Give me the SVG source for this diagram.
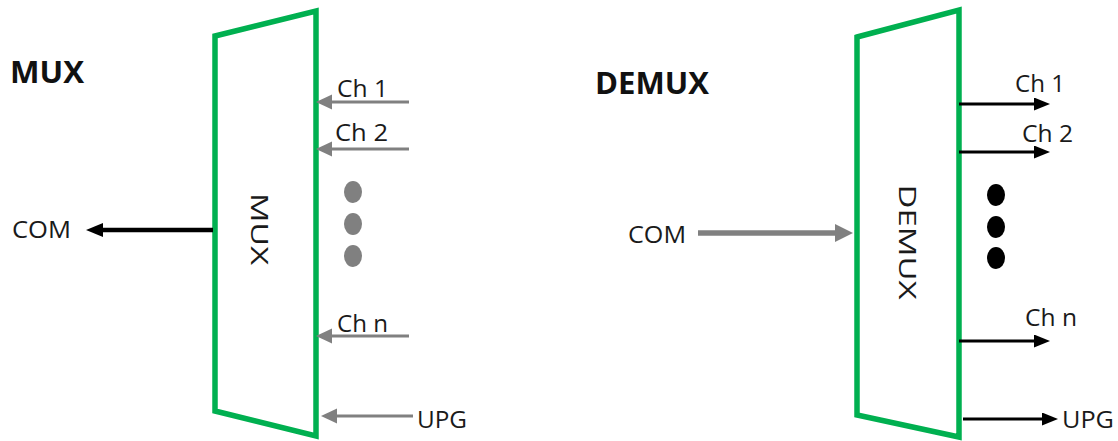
<svg xmlns="http://www.w3.org/2000/svg" width="1118" height="441" viewBox="0 0 1118 441">
<style>
  .box { fill: #ffffff; stroke: #00B050; stroke-width: 5.5; stroke-linejoin: miter; }
  .lbl { font-family: "Open Sans", "Liberation Sans", sans-serif; font-size: 24px; fill: #1a1a1a; }
  .ttl { font-family: "Open Sans", "Liberation Sans", sans-serif; font-size: 30px; font-weight: bold; fill: #111111; }
  .gray { stroke: #808080; fill: none; }
  .blk { stroke: #000000; fill: none; }
</style>
<defs>
  <marker id="hg" markerUnits="userSpaceOnUse" markerWidth="18" markerHeight="16" refX="4" refY="7.5" orient="auto">
    <path d="M0,0 L16,7.5 L0,15 z" fill="#808080"/>
  </marker>
  <marker id="hgBig" markerUnits="userSpaceOnUse" markerWidth="20" markerHeight="20" refX="4" refY="9" orient="auto">
    <path d="M0,0 L18,9 L0,18 z" fill="#808080"/>
  </marker>
  <marker id="hb" markerUnits="userSpaceOnUse" markerWidth="18" markerHeight="14" refX="4" refY="6.5" orient="auto">
    <path d="M0,0 L16,6.5 L0,13 z" fill="#000000"/>
  </marker>
  <marker id="hbBig" markerUnits="userSpaceOnUse" markerWidth="19" markerHeight="16" refX="4" refY="7" orient="auto">
    <path d="M0,0 L17,7 L0,14 z" fill="#000000"/>
  </marker>
</defs>
<rect width="1118" height="441" fill="#ffffff"/>

<text class="ttl" x="10" y="83" textLength="74" lengthAdjust="spacingAndGlyphs">MUX</text>
<text class="ttl" x="595" y="94" textLength="114" lengthAdjust="spacingAndGlyphs">DEMUX</text>

<g id="mux">
  <polygon class="box" points="215,36 316,11 316,436 215,411"/>
  <text class="lbl" transform="translate(251,229) rotate(90)" text-anchor="middle" font-size="28" textLength="72" lengthAdjust="spacingAndGlyphs">MUX</text>
</g>

<g id="demux">
  <polygon class="box" points="857,37 959,10 959,437 857,415"/>
  <text class="lbl" transform="translate(899,242) rotate(90)" text-anchor="middle" font-size="34" textLength="115" lengthAdjust="spacingAndGlyphs">DEMUX</text>
</g>

<g id="mux-dots" fill="#808080">
  <ellipse cx="353" cy="192" rx="9" ry="11"/>
  <ellipse cx="353" cy="224" rx="9" ry="11"/>
  <ellipse cx="353" cy="256" rx="9" ry="11"/>
</g>
<g id="demux-dots" fill="#000000">
  <ellipse cx="996" cy="195" rx="9" ry="11"/>
  <ellipse cx="996" cy="227" rx="9" ry="11"/>
  <ellipse cx="996" cy="258" rx="9" ry="11"/>
</g>

<g id="labels">
  <text class="lbl" x="12" y="238" textLength="59" lengthAdjust="spacingAndGlyphs">COM</text>
  <text class="lbl" x="337" y="97" textLength="51" lengthAdjust="spacingAndGlyphs">Ch 1</text>
  <text class="lbl" x="335" y="141" textLength="53" lengthAdjust="spacingAndGlyphs">Ch 2</text>
  <text class="lbl" x="337" y="332" textLength="51" lengthAdjust="spacingAndGlyphs">Ch n</text>
  <text class="lbl" x="417" y="428" textLength="50" lengthAdjust="spacingAndGlyphs">UPG</text>

  <text class="lbl" x="628" y="243" textLength="58" lengthAdjust="spacingAndGlyphs">COM</text>
  <text class="lbl" x="1015" y="92" textLength="50" lengthAdjust="spacingAndGlyphs">Ch 1</text>
  <text class="lbl" x="1022" y="142" textLength="51" lengthAdjust="spacingAndGlyphs">Ch 2</text>
  <text class="lbl" x="1025" y="326" textLength="52" lengthAdjust="spacingAndGlyphs">Ch n</text>
  <text class="lbl" x="1062" y="428" textLength="52" lengthAdjust="spacingAndGlyphs">UPG</text>
</g>

<g id="connectors">
  <line class="blk" x1="213" y1="230" x2="99" y2="230" stroke-width="4.5" marker-end="url(#hbBig)"/>
  <line class="gray" x1="409" y1="102" x2="328" y2="102" stroke-width="3" marker-end="url(#hg)"/>
  <line class="gray" x1="409" y1="149" x2="328" y2="149" stroke-width="3" marker-end="url(#hg)"/>
  <line class="gray" x1="409" y1="336" x2="328" y2="336" stroke-width="3" marker-end="url(#hg)"/>
  <line class="gray" x1="413" y1="416" x2="333" y2="416" stroke-width="3" marker-end="url(#hg)"/>

  <line class="gray" x1="698" y1="233" x2="839" y2="233" stroke-width="5.5" marker-end="url(#hgBig)"/>
  <line class="blk" x1="959" y1="104" x2="1038" y2="104" stroke-width="3" marker-end="url(#hb)"/>
  <line class="blk" x1="959" y1="152" x2="1038" y2="152" stroke-width="3" marker-end="url(#hb)"/>
  <line class="blk" x1="959" y1="341" x2="1038" y2="341" stroke-width="3" marker-end="url(#hb)"/>
  <line class="blk" x1="963" y1="419" x2="1046" y2="419" stroke-width="3" marker-end="url(#hb)"/>
</g>
</svg>
